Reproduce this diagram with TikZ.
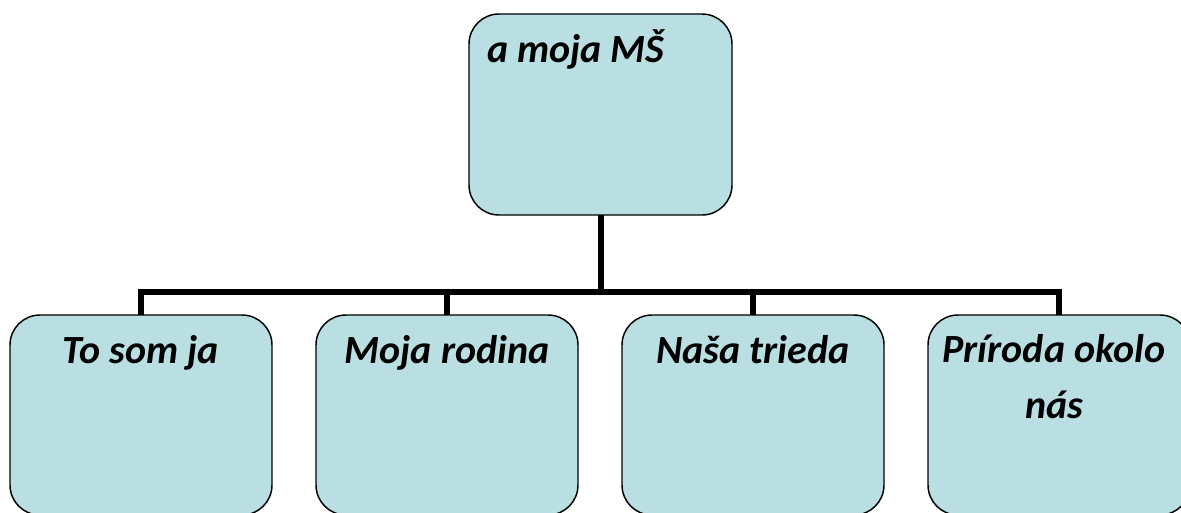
\documentclass[tikz,border=0pt]{standalone}
\usepackage{fontspec}
\setmainfont{Carlito}
\definecolor{boxfill}{RGB}{185,223,227}
\begin{document}
\begin{tikzpicture}[x=0.75pt,y=-0.75pt,
  box/.style={draw=black,fill=boxfill,line width=1.1pt,rounded corners=22.5pt,
    minimum width=196.5pt,minimum height=150pt,inner sep=0pt,outer sep=0pt},
  topbox/.style={box,minimum width=197.25pt,minimum height=150.75pt},
  lbl/.style={inner sep=0pt,outer sep=0pt,font=\fontsize{30}{42}\selectfont\bfseries\itshape},
  conn/.style={draw=black,line width=4.5pt,line join=miter,line cap=butt}]
\useasboundingbox (0,0) rectangle (1181,512);
\node[topbox] (top) at (600.5,114.5) {};
\node[box] (b1) at (141,415) {};
\node[box] (b2) at (447,415) {};
\node[box] (b3) at (753,415) {};
\node[box] (b4) at (1059,415) {};
\coordinate (bar) at (600.5,292);
\draw[conn] (top.south) -- (bar);
\draw[conn] (b1.north) |- (bar) -| (b4.north);
\draw[conn] (b2.north) -- (b2.north |- bar);
\draw[conn] (b3.north) -- (b3.north |- bar);
\node[lbl,anchor=base west] (t0) at (487,62) {a moja MŠ};
\node[lbl,anchor=base] (t1) at (141,363) {To som ja};
\node[lbl,anchor=base] (t2) at (447,363) {Moja rodina};
\node[lbl,anchor=base] (t3) at (753,363) {Naša trieda};
\node[lbl,anchor=base] (t4a) at (1054,362) {Príroda okolo};
\node[lbl,anchor=base] (t4b) at (1054,418) {nás};
\end{tikzpicture}
\end{document}
